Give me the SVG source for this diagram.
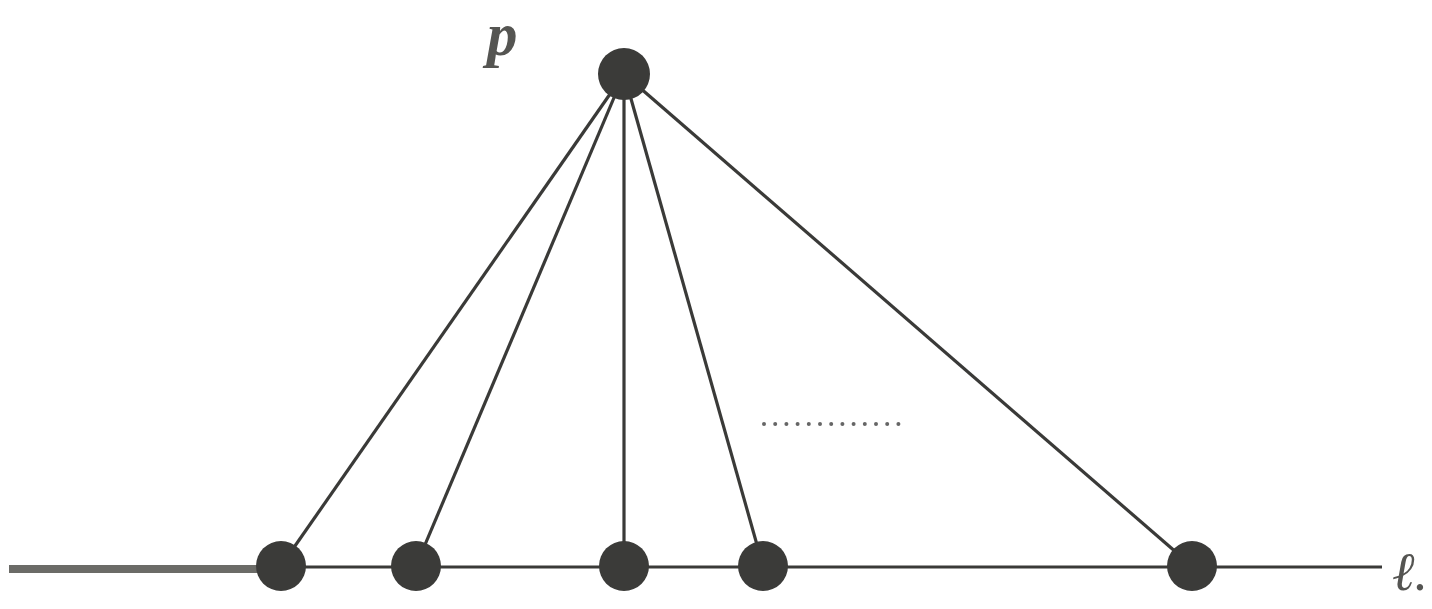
<svg xmlns="http://www.w3.org/2000/svg" width="1432" height="609" viewBox="0 0 1432 609">
<style>
.edge{stroke:#3a3a38;stroke-width:3.2;fill:none}
.node{fill:#3b3b39}
.lbl{font-family:"Liberation Serif",serif;font-style:italic;fill:#555552}
</style>
<rect width="1432" height="609" fill="#ffffff"/>
<g id="connectors">
<line x1="9" y1="569" x2="258" y2="569" stroke="#6b6b67" stroke-width="8"/>
<line x1="258" y1="567" x2="1382" y2="567" class="edge"/>
<line x1="624" y1="74" x2="281" y2="566" class="edge"/>
<line x1="624" y1="74" x2="416" y2="566" class="edge"/>
<line x1="624" y1="74" x2="624" y2="566" class="edge"/>
<line x1="624" y1="74" x2="763" y2="566" class="edge"/>
<line x1="624" y1="74" x2="1192" y2="566" class="edge"/>
<line x1="764" y1="424" x2="906" y2="424" stroke="#666" stroke-width="4" stroke-dasharray="0,11.2" stroke-linecap="round"/>
</g>
<g id="node-p"><circle cx="624" cy="74" r="26" class="node"/><text x="487" y="55" class="lbl" font-size="61" font-weight="bold">p</text></g>
<g id="node-1"><circle cx="281" cy="566" r="25" class="node"/></g>
<g id="node-2"><circle cx="416" cy="566" r="25" class="node"/></g>
<g id="node-3"><circle cx="624" cy="566" r="25" class="node"/></g>
<g id="node-4"><circle cx="763" cy="566" r="25" class="node"/></g>
<g id="node-5"><circle cx="1192" cy="566" r="25" class="node"/></g>
<g id="label-l"><text x="1392" y="590" class="lbl" font-size="54">ℓ.</text></g>
</svg>
